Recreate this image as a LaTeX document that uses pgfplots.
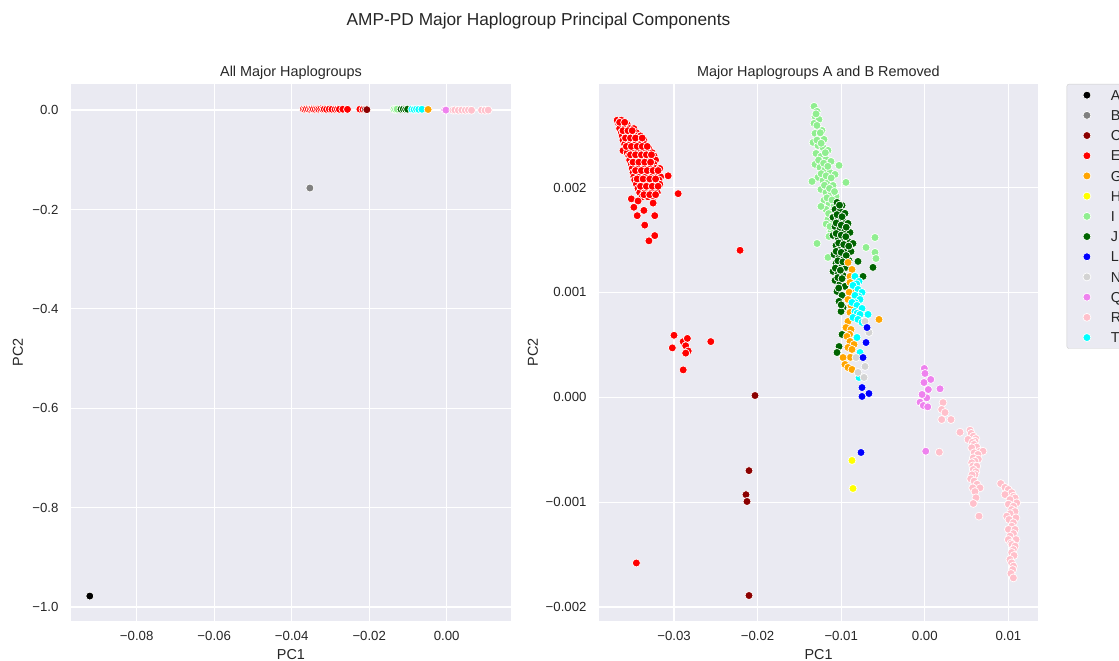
\documentclass[border=0pt]{standalone}
\usepackage{fontspec}
\setmainfont{Liberation Sans}
\usepackage{pgfplots}
\pgfplotsset{compat=1.18}
\definecolor{sbbg}{HTML}{EAEAF2}
\definecolor{sbtext}{HTML}{262626}
\definecolor{sbedge}{HTML}{CCCCCC}
\definecolor{cA}{HTML}{000000}
\definecolor{cB}{HTML}{808080}
\definecolor{cC}{HTML}{8B0000}
\definecolor{cE}{HTML}{FF0000}
\definecolor{cG}{HTML}{FFA500}
\definecolor{cH}{HTML}{FFFF00}
\definecolor{cI}{HTML}{90EE90}
\definecolor{cJ}{HTML}{006400}
\definecolor{cL}{HTML}{0000FF}
\definecolor{cN}{HTML}{D3D3D3}
\definecolor{cQ}{HTML}{EE82EE}
\definecolor{cR}{HTML}{FFC0CB}
\definecolor{cT}{HTML}{00FFFF}
\pgfplotsset{
  sb/.style={only marks, mark=*, mark size=4bp,
    mark options={solid, draw=white, line width=0.7bp, fill=#1},
    legend image code/.code={\path[draw=none,fill=none] (-20bp,0bp) -- (24bp,0bp); \draw[##1] plot coordinates {(0bp,0bp)};}},
  sbaxis/.style={
    scale only axis,
    height=537bp,
    axis background/.style={fill=sbbg},
    axis line style={draw=none},
    grid=major,
    grid style={white, line width=1.2bp},
    major tick length=0pt,
    scaled ticks=false,
    tick label style={font=\fontsize{13.2bp}{15bp}\selectfont, text=sbtext},
    xticklabel style={anchor=base, yshift=-20bp},
    yticklabel style={anchor=base east, xshift=-9bp, yshift=-4.7bp},
    title style={font=\fontsize{14.4bp}{17bp}\selectfont, text=sbtext, yshift=-5bp},
    label style={font=\fontsize{14.4bp}{17bp}\selectfont, text=sbtext},
    xlabel style={at={(axis description cs:0.5,-0.0726)}, anchor=base},
  },
}
\begin{document}
\begin{tikzpicture}
\path[use as bounding box] (0bp,0bp) rectangle (1119bp,661bp);
\clip (0bp,0bp) rectangle (1119bp,661bp);
\node[font=\fontsize{17.3bp}{20bp}\selectfont, text=sbtext, anchor=base] at (538.5bp,635bp) {AMP-PD Major Haplogroup Principal Components};
% ---------------- left axis
\begin{axis}[sbaxis, at={(71bp,40bp)}, anchor=south west, width=440bp,
  xmin=-0.09695, xmax=0.01659, ymin=-1.0282, ymax=0.0523,
  xtick={-0.08,-0.06,-0.04,-0.02,0}, xticklabels={−0.08,−0.06,−0.04,−0.02,0.00},
  ytick={-1,-0.8,-0.6,-0.4,-0.2,0}, yticklabels={−1.0,−0.8,−0.6,−0.4,−0.2,0.0},
  title={All Major Haplogroups}, xlabel={PC1}, ylabel={PC2},
  ylabel style={at={(axis description cs:-0.1205,0.5)}, anchor=center},
]
\addplot[sb=cA] table {
x y
-0.0921 -0.978
};
\addplot[sb=cB] table {
x y
-0.0353 -0.157
};
\addplot[sb=cE] table {
x y
-0.0370 0.0018
-0.0366 0.0012
-0.0362 0.0020
-0.0357 0.0015
-0.0352 0.0010
-0.0348 0.0021
-0.0344 0.0016
-0.0339 0.0012
-0.0334 0.0019
-0.0330 0.0014
-0.0325 0.0020
-0.0320 0.0012
-0.0316 0.0017
-0.0310 0.0013
-0.0303 0.0018
-0.0296 0.0015
-0.0288 0.0012
-0.0282 0.0017
-0.0277 0.0014
-0.0268 0.0016
-0.0256 0.0013
-0.0224 0.0016
-0.0216 0.0012
};
\addplot[sb=cC] table {
x y
-0.0210 0.0010
-0.0206 0.0006
};
\addplot[sb=cI] table {
x y
-0.0136 0.0016
-0.0132 0.0012
-0.0128 0.0018
};
\addplot[sb=cJ] table {
x y
-0.0118 0.0014
-0.0112 0.0018
-0.0106 0.0012
-0.0101 0.0016
};
\addplot[sb=cN] table {
x y
-0.0072 0.0010
};
\addplot[sb=cL] table {
x y
-0.0068 0.0012
};
\addplot[sb=cT] table {
x y
-0.0090 0.0014
-0.0084 0.0010
-0.0078 0.0016
-0.0072 0.0012
-0.0064 0.0014
};
\addplot[sb=cG] table {
x y
-0.0048 0.0010
};
\addplot[sb=cQ] table {
x y
-0.0005 0.0002
-0.0002 -0.0002
};
\addplot[sb=cR] table {
x y
0.0016 -0.0004
0.0021 0.0000
0.0030 -0.0006
0.0039 -0.0002
0.0048 -0.0005
0.0056 -0.0001
0.0064 -0.0006
0.0090 -0.0003
0.0099 -0.0007
0.0107 -0.0002
};
\end{axis}
% ---------------- right axis
\begin{axis}[sbaxis, at={(599bp,40bp)}, anchor=south west, width=439bp,
  xmin=-0.03897, xmax=0.01354, ymin=-0.002133, ymax=0.002985,
  xtick={-0.03,-0.02,-0.01,0,0.01}, xticklabels={−0.03,−0.02,−0.01,0.00,0.01},
  ytick={-0.002,-0.001,0,0.001,0.002}, yticklabels={−0.002,−0.001,0.000,0.001,0.002},
  title={Major Haplogroups A and B Removed}, xlabel={PC1}, ylabel={PC2},
  ylabel style={at={(axis description cs:-0.1503,0.5)}, anchor=center},
  legend style={at={(1.0654,1)}, anchor=north west, fill=sbbg, draw=sbedge,
    rounded corners=2bp, inner xsep=0pt, inner ysep=5.8bp, row sep=9.9bp,
    font=\fontsize{14.4bp}{17bp}\selectfont,
    nodes={inner sep=0pt, text height=10.3bp, text depth=0pt, text=sbtext}},
  legend cell align=left,
  legend entries={A,B,C,E,G,H,I,J,L,N,Q,R,T},
]
\addlegendimage{sb=cA}
\addlegendimage{sb=cB}
\addlegendimage{sb=cC}
\addlegendimage{sb=cE}
\addlegendimage{sb=cG}
\addlegendimage{sb=cH}
\addlegendimage{sb=cI}
\addlegendimage{sb=cJ}
\addlegendimage{sb=cL}
\addlegendimage{sb=cN}
\addlegendimage{sb=cQ}
\addlegendimage{sb=cR}
\addlegendimage{sb=cT}
\addplot[sb=cE, forget plot] table {
x y
-0.0368 0.00264
-0.0363 0.00264
-0.0366 0.00260
-0.0361 0.00260
-0.0356 0.00260
-0.0365 0.00256
-0.0359 0.00256
-0.0353 0.00256
-0.0348 0.00256
-0.0363 0.00252
-0.0357 0.00252
-0.0351 0.00252
-0.0345 0.00252
-0.0362 0.00249
-0.0356 0.00249
-0.0350 0.00249
-0.0344 0.00249
-0.0340 0.00249
-0.0361 0.00245
-0.0355 0.00245
-0.0348 0.00245
-0.0342 0.00245
-0.0336 0.00245
-0.0359 0.00241
-0.0353 0.00241
-0.0346 0.00241
-0.0340 0.00241
-0.0335 0.00241
-0.0361 0.00235
-0.0355 0.00237
-0.0349 0.00237
-0.0343 0.00237
-0.0336 0.00237
-0.0330 0.00237
-0.0356 0.00233
-0.0350 0.00233
-0.0344 0.00233
-0.0337 0.00233
-0.0331 0.00233
-0.0326 0.00233
-0.0354 0.00230
-0.0348 0.00230
-0.0341 0.00230
-0.0335 0.00230
-0.0329 0.00230
-0.0324 0.00230
-0.0353 0.00226
-0.0346 0.00226
-0.0340 0.00226
-0.0333 0.00226
-0.0326 0.00226
-0.0322 0.00226
-0.0351 0.00222
-0.0344 0.00222
-0.0337 0.00222
-0.0331 0.00222
-0.0324 0.00222
-0.0350 0.00218
-0.0343 0.00218
-0.0336 0.00218
-0.0329 0.00218
-0.0322 0.00218
-0.0317 0.00218
-0.0349 0.00214
-0.0342 0.00214
-0.0335 0.00214
-0.0328 0.00214
-0.0320 0.00214
-0.0348 0.00210
-0.0341 0.00210
-0.0334 0.00210
-0.0326 0.00210
-0.0319 0.00210
-0.0316 0.00210
-0.0347 0.00207
-0.0340 0.00207
-0.0332 0.00207
-0.0325 0.00207
-0.0318 0.00207
-0.0345 0.00203
-0.0338 0.00203
-0.0331 0.00203
-0.0324 0.00203
-0.0317 0.00203
-0.0343 0.00199
-0.0336 0.00199
-0.0329 0.00199
-0.0322 0.00199
-0.0341 0.00195
-0.0335 0.00195
-0.0327 0.00195
-0.0320 0.00195
-0.0338 0.00191
-0.0331 0.00191
-0.0324 0.00191
-0.0365 0.00262
-0.0359 0.00262
-0.0361 0.00254
-0.0355 0.00254
-0.0350 0.00254
-0.0358 0.00247
-0.0352 0.00247
-0.0346 0.00247
-0.0338 0.00247
-0.0357 0.00239
-0.0351 0.00239
-0.0344 0.00239
-0.0338 0.00239
-0.0332 0.00239
-0.0352 0.00231
-0.0346 0.00231
-0.0339 0.00231
-0.0333 0.00231
-0.0327 0.00231
-0.0349 0.00224
-0.0342 0.00224
-0.0335 0.00224
-0.0328 0.00224
-0.0346 0.00216
-0.0339 0.00216
-0.0332 0.00216
-0.0325 0.00216
-0.0319 0.00216
-0.0344 0.00208
-0.0337 0.00208
-0.0329 0.00208
-0.0322 0.00208
-0.0340 0.00201
-0.0333 0.00201
-0.0326 0.00201
-0.0319 0.00201
-0.0336 0.00193
-0.0329 0.00193
-0.0322 0.00193
-0.0307 0.00211
-0.0295 0.00194
-0.0351 0.00189
-0.0343 0.00187
-0.0325 0.00185
-0.0348 0.00181
-0.0336 0.00178
-0.0344 0.00173
-0.0323 0.00173
-0.0335 0.00164
-0.0323 0.00154
-0.0330 0.00149
-0.0221 0.00140
-0.0300 0.00059
-0.0302 0.00047
-0.0289 0.00053
-0.0284 0.00056
-0.0286 0.00049
-0.0283 0.00044
-0.0256 0.00053
-0.0289 0.00026
-0.0286 0.00042
-0.0345 -0.00158
};
\addplot[sb=cC, forget plot] table {
x y
-0.02031 0.000016
-0.02103 -0.000700
-0.02139 -0.000929
-0.02127 -0.000994
-0.02103 -0.00189
};
\addplot[sb=cI, forget plot] table {
x y
-0.01325 0.002772
-0.01289 0.002724
-0.01313 0.002676
-0.01266 0.002647
-0.01325 0.002609
-0.01278 0.002571
-0.01230 0.002542
-0.01313 0.002514
-0.01254 0.002485
-0.01206 0.002457
-0.01337 0.002428
-0.01278 0.002399
-0.01218 0.002380
-0.01158 0.002352
-0.01301 0.002323
-0.01242 0.002295
-0.01182 0.002266
-0.01122 0.002247
-0.01313 0.002219
-0.01254 0.002190
-0.01194 0.002171
-0.01134 0.002142
-0.01074 0.002123
-0.01278 0.002095
-0.01218 0.002066
-0.01158 0.002047
-0.01098 0.002018
-0.01242 0.001980
-0.01182 0.001952
-0.01122 0.001933
-0.01062 0.001914
-0.01206 0.001876
-0.01146 0.001847
-0.01086 0.001828
-0.01182 0.001790
-0.01122 0.001761
-0.01050 0.001733
-0.01158 0.001695
-0.01098 0.001656
-0.01134 0.001599
-0.01086 0.001551
-0.01301 0.002700
-0.01290 0.002590
-0.01250 0.002520
-0.01290 0.002450
-0.01240 0.002420
-0.01190 0.002330
-0.01270 0.002260
-0.01210 0.002230
-0.01160 0.002200
-0.01240 0.002130
-0.01180 0.002110
-0.01120 0.002090
-0.01200 0.002020
-0.01140 0.001990
-0.01080 0.001960
-0.01170 0.001900
-0.01110 0.001880
-0.01150 0.001750
-0.01100 0.001720
-0.01180 0.001650
-0.01120 0.001580
-0.01349 0.002056
-0.00943 0.002047
-0.01026 0.002209
-0.01242 0.001818
-0.01289 0.001465
-0.01158 0.001332
-0.00596 0.001522
-0.00703 0.001427
-0.00596 0.001380
-0.00584 0.001322
-0.01146 0.001532
-0.01134 0.001627
};
\addplot[sb=cJ, forget plot] table {
x y
-0.01050 0.001856
-0.00990 0.001828
-0.01074 0.001790
-0.01014 0.001771
-0.00955 0.001752
-0.01098 0.001714
-0.01038 0.001695
-0.00978 0.001676
-0.00919 0.001656
-0.01074 0.001627
-0.01014 0.001608
-0.00955 0.001589
-0.00895 0.001570
-0.01098 0.001542
-0.01038 0.001523
-0.00978 0.001504
-0.00919 0.001485
-0.00859 0.001465
-0.01062 0.001446
-0.01002 0.001427
-0.00943 0.001408
-0.00883 0.001389
-0.01086 0.001360
-0.01026 0.001341
-0.00967 0.001322
-0.00907 0.001303
-0.01062 0.001275
-0.01002 0.001256
-0.00943 0.001237
-0.01098 0.001199
-0.01038 0.001180
-0.00978 0.001160
-0.01074 0.001113
-0.01014 0.001084
-0.00955 0.001056
-0.01050 0.001008
-0.00990 0.000970
-0.01026 0.000913
-0.00978 0.000855
-0.01002 0.000817
-0.01020 0.001830
-0.01050 0.001740
-0.00990 0.001720
-0.01060 0.001660
-0.01000 0.001640
-0.00940 0.001620
-0.01060 0.001560
-0.01000 0.001545
-0.00945 0.001530
-0.01030 0.001470
-0.00970 0.001455
-0.00910 0.001440
-0.01060 0.001390
-0.01000 0.001380
-0.00940 0.001350
-0.01040 0.001300
-0.00980 0.001290
-0.01070 0.001230
-0.01010 0.001210
-0.01040 0.001140
-0.00990 0.001130
-0.01030 0.001040
-0.01000 0.000880
-0.00799 0.001294
-0.00620 0.001237
-0.00739 0.001151
-0.00990 0.000598
-0.01026 0.000483
-0.01050 0.000426
};
\addplot[sb=cG, forget plot] table {
x y
-0.00919 0.001284
-0.00871 0.001217
-0.00895 0.001151
-0.00895 0.001093
-0.00859 0.001027
-0.00905 0.001000
-0.00919 0.000931
-0.00883 0.000874
-0.00895 0.000808
-0.00919 0.000722
-0.00943 0.000664
-0.00883 0.000645
-0.00900 0.000600
-0.00931 0.000579
-0.00895 0.000531
-0.00847 0.000502
-0.00919 0.000474
-0.00871 0.000455
-0.00890 0.000380
-0.00978 0.000378
-0.00955 0.000312
-0.00919 0.000283
-0.00871 0.000264
-0.00548 0.000741
};
\addplot[sb=cT, forget plot] table {
x y
-0.00835 0.001151
-0.00787 0.001103
-0.00815 0.001080
-0.00859 0.001065
-0.00799 0.001027
-0.00751 0.000998
-0.00790 0.000960
-0.00835 0.000970
-0.00775 0.000931
-0.00830 0.000900
-0.00871 0.000903
-0.00811 0.000874
-0.00751 0.000846
-0.00835 0.000817
-0.00810 0.000800
-0.00775 0.000789
-0.00679 0.000789
-0.00859 0.000760
-0.00799 0.000741
-0.00751 0.000713
-0.00811 0.000569
-0.00775 0.000426
-0.00787 0.000188
};
\addplot[sb=cN, forget plot] table {
x y
-0.00715 0.000722
-0.00668 0.000617
-0.00823 0.000378
-0.00715 0.000293
-0.00727 0.000188
-0.00799 0.000236
};
\addplot[sb=cL, forget plot] table {
x y
-0.00691 0.000664
-0.00703 0.000521
-0.00739 0.000378
-0.00751 0.000092
-0.00751 0.000007
-0.00668 0.000035
-0.00763 -0.000527
};
\addplot[sb=cH, forget plot] table {
x y
-0.00871 -0.000603
-0.00859 -0.000870
};
\addplot[sb=cQ, forget plot] table {
x y
-0.00006 0.000274
0.00002 0.000226
0.00071 0.000169
0.00182 0.000080
0.00042 0.000073
-0.00010 0.000140
0.00023 -0.000006
-0.00033 0.000026
-0.00057 -0.000048
-0.00018 -0.000079
0.00035 -0.000092
0.00011 -0.000515
};
\addplot[sb=cR, forget plot] table {
x y
0.00218 -0.000051
0.00202 -0.000117
0.00242 -0.000146
0.00202 -0.000213
0.00313 -0.000213
0.00421 -0.000334
0.00173 -0.000524
0.00541 -0.000315
0.00555 -0.000345
0.00580 -0.000372
0.00517 -0.000403
0.00610 -0.000395
0.00600 -0.000419
0.00570 -0.000430
0.00589 -0.000451
0.00620 -0.000475
0.00561 -0.000482
0.00660 -0.000515
0.00696 -0.000515
0.00590 -0.000530
0.00636 -0.000546
0.00580 -0.000578
0.00640 -0.000590
0.00600 -0.000610
0.00561 -0.000625
0.00575 -0.000655
0.00621 -0.000658
0.00580 -0.000689
0.00610 -0.000710
0.00600 -0.000737
0.00565 -0.000740
0.00549 -0.000778
0.00590 -0.000800
0.00625 -0.000830
0.00573 -0.000864
0.00660 -0.000864
0.00600 -0.000900
0.00612 -0.000959
0.00580 -0.001013
0.00648 -0.001134
0.00908 -0.000823
0.00960 -0.000860
0.00999 -0.000880
0.01040 -0.000910
0.00959 -0.000928
0.01059 -0.000944
0.01080 -0.000960
0.01019 -0.000976
0.01099 -0.001007
0.01000 -0.001020
0.01060 -0.001040
0.01039 -0.001071
0.01079 -0.001090
0.01020 -0.001110
0.00980 -0.001134
0.01090 -0.001150
0.01007 -0.001166
0.01059 -0.001197
0.01040 -0.001230
0.01000 -0.001260
0.01079 -0.001261
0.01060 -0.001300
0.01019 -0.001325
0.00999 -0.001357
0.01091 -0.001357
0.01030 -0.001390
0.01043 -0.001404
0.01080 -0.001420
0.01059 -0.001452
0.01040 -0.001480
0.01067 -0.001509
0.01019 -0.001547
0.01039 -0.001579
0.01060 -0.001610
0.01051 -0.001643
0.01030 -0.001680
0.01059 -0.001722
};
\end{axis}
\end{tikzpicture}
\end{document}
